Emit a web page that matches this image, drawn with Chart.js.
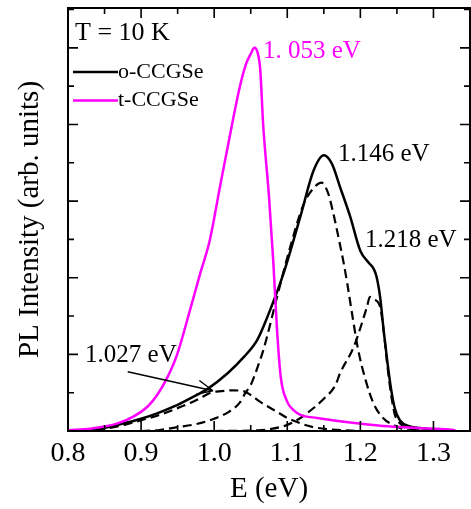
<!DOCTYPE html>
<html>
<head>
<meta charset="utf-8">
<script src="https://cdn.jsdelivr.net/npm/chart.js@4.4.0/dist/chart.umd.min.js"></script>
<style>
  html, body { margin: 0; padding: 0; background: #fff; }
  canvas { display: block; }
</style>
</head>
<body>
<canvas id="plChart" width="471" height="509"></canvas>
<script>
// t-CCGSe spectrum (magenta)
const tEnergy = [0.80, 0.83, 0.868, 0.89, 0.909, 0.922, 0.936, 0.949, 0.967, 0.981, 0.994, 1.008, 1.022, 1.035, 1.044, 1.050, 1.055, 1.059, 1.063, 1.067, 1.075, 1.081, 1.086, 1.091, 1.100, 1.109, 1.118, 1.141, 1.186, 1.231, 1.277, 1.322, 1.330];
const tIntensity = [0.01, 0.03, 0.10, 0.19, 0.32, 0.47, 0.70, 0.99, 1.58, 2.06, 2.49, 3.19, 3.88, 4.49, 4.80, 4.92, 5.00, 4.95, 4.72, 4.00, 3.06, 2.19, 1.32, 0.71, 0.38, 0.27, 0.21, 0.17, 0.11, 0.065, 0.04, 0.02, 0.01];

// o-CCGSe spectrum (black, solid)
const oEnergy = [0.80, 0.831, 0.877, 0.90, 0.922, 0.945, 0.968, 0.991, 1.018, 1.041, 1.059, 1.072, 1.095, 1.118, 1.136, 1.150, 1.161, 1.172, 1.186, 1.200, 1.212, 1.218, 1.222, 1.227, 1.232, 1.237, 1.242, 1.247, 1.254, 1.268, 1.282, 1.300, 1.330];
const oIntensity = [0.0, 0.01, 0.10, 0.16, 0.23, 0.32, 0.43, 0.55, 0.75, 0.97, 1.19, 1.47, 2.06, 2.80, 3.40, 3.60, 3.49, 3.19, 2.80, 2.35, 2.19, 2.12, 2.02, 1.75, 1.30, 0.90, 0.55, 0.30, 0.14, 0.06, 0.04, 0.02, 0.0];

// fitted components (black, dashed)
const peakAEnergy = [0.80, 0.85, 0.877, 0.90, 0.922, 0.945, 0.968, 0.981, 0.995, 1.010, 1.025, 1.040, 1.050, 1.063, 1.086, 1.100, 1.118, 1.136, 1.160, 1.200];
const peakAIntensity = [0.0, 0.03, 0.08, 0.14, 0.20, 0.28, 0.37, 0.43, 0.50, 0.52, 0.53, 0.52, 0.47, 0.38, 0.25, 0.17, 0.10, 0.05, 0.02, 0.0];

const peakBEnergy = [0.90, 0.923, 0.950, 0.975, 1.000, 1.020, 1.035, 1.043, 1.050, 1.060, 1.068, 1.086, 1.104, 1.122, 1.136, 1.147, 1.156, 1.163, 1.170, 1.177, 1.182, 1.190, 1.197, 1.207, 1.218, 1.231, 1.245, 1.260, 1.280];
const peakBIntensity = [0.0, 0.01, 0.05, 0.09, 0.16, 0.25, 0.37, 0.50, 0.60, 0.85, 1.08, 1.75, 2.40, 2.95, 3.17, 3.24, 3.10, 2.84, 2.53, 2.20, 1.93, 1.45, 1.06, 0.67, 0.36, 0.17, 0.08, 0.02, 0.0];

const peakCEnergy = [1.00, 1.06, 1.08, 1.10, 1.118, 1.136, 1.150, 1.166, 1.172, 1.191, 1.209, 1.213, 1.218, 1.227, 1.232, 1.237, 1.242, 1.247, 1.254, 1.270, 1.300];
const peakCIntensity = [0.0, 0.01, 0.03, 0.08, 0.17, 0.30, 0.42, 0.60, 0.75, 1.10, 1.62, 1.75, 1.72, 1.62, 1.30, 0.85, 0.48, 0.22, 0.10, 0.02, 0.0];

const xTicks = [0.8, 0.9, 1.0, 1.1, 1.2, 1.3];
const yTicks = [0, 1, 2, 3, 4, 5];

const MAGENTA = '#ff00ff';
const SERIF = "'Liberation Serif', 'Times New Roman', serif";

function toPoints(xs, ys) {
  return xs.map((v, i) => ({ x: v, y: ys[i] }));
}

const frameTicks = {
  id: 'frameTicks',
  afterDraw(chart) {
    const { ctx, chartArea: a, scales: { x, y } } = chart;
    ctx.save();
    ctx.strokeStyle = '#000';
    ctx.lineWidth = 2;
    ctx.strokeRect(a.left, a.top, a.right - a.left, a.bottom - a.top);

    ctx.lineWidth = 1.6;
    ctx.beginPath();
    xTicks.forEach(v => {
      [v, v + 0.05].forEach((t, k) => {
        if (t > x.max + 1e-9) return;
        const px = x.getPixelForValue(t);
        const len = k === 0 ? 10 : 6;
        ctx.moveTo(px, a.bottom); ctx.lineTo(px, a.bottom - len);
        ctx.moveTo(px, a.top); ctx.lineTo(px, a.top + len);
      });
    });
    yTicks.forEach(v => {
      [v, v + 0.5].forEach((t, k) => {
        if (t > y.max + 1e-9) return;
        const py = y.getPixelForValue(t);
        const len = k === 0 ? 10 : 6;
        ctx.moveTo(a.left, py); ctx.lineTo(a.left + len, py);
        ctx.moveTo(a.right, py); ctx.lineTo(a.right - len, py);
      });
    });
    ctx.stroke();

    // legend
    const legend = [
      { label: 'o-CCGSe', color: '#000', y: a.top + 64 },
      { label: 't-CCGSe', color: MAGENTA, y: a.top + 92.5 }
    ];
    ctx.font = '22px ' + SERIF;
    ctx.textBaseline = 'middle';
    ctx.textAlign = 'left';
    legend.forEach(item => {
      ctx.strokeStyle = item.color;
      ctx.lineWidth = 2.5;
      ctx.beginPath();
      ctx.moveTo(a.left + 5, item.y);
      ctx.lineTo(a.left + 50, item.y);
      ctx.stroke();
      ctx.fillStyle = '#000';
      ctx.fillText(item.label, a.left + 50, item.y);
    });

    // text labels
    const labels = [
      { text: 'T = 10 K', x: 0.8096, y: 5.198, color: '#000', size: 26 },
      { text: '1. 053 eV', x: 1.0668, y: 4.95, color: MAGENTA, size: 25 },
      { text: '1.146 eV', x: 1.1694, y: 3.613, color: '#000', size: 25 },
      { text: '1.218 eV', x: 1.2063, y: 2.491, color: '#000', size: 25 },
      { text: '1.027 eV', x: 0.8233, y: 0.991, color: '#000', size: 25 }
    ];
    labels.forEach(l => {
      ctx.font = l.size + 'px ' + SERIF;
      ctx.fillStyle = l.color;
      ctx.fillText(l.text, x.getPixelForValue(l.x), y.getPixelForValue(l.y));
    });

    // arrow to the 1.027 eV component
    const x0 = x.getPixelForValue(0.8817), y0 = y.getPixelForValue(0.773);
    const x1 = x.getPixelForValue(0.9984), y1 = y.getPixelForValue(0.526);
    const ang = Math.atan2(y1 - y0, x1 - x0);
    ctx.strokeStyle = '#000';
    ctx.lineWidth = 1.4;
    ctx.beginPath();
    ctx.moveTo(x0, y0); ctx.lineTo(x1, y1);
    [0.42, -0.42].forEach(d => {
      ctx.moveTo(x1, y1);
      ctx.lineTo(x1 - 17 * Math.cos(ang + d), y1 - 17 * Math.sin(ang + d));
    });
    ctx.stroke();
    ctx.restore();
  }
};

const solid = (data, color) => ({
  data, borderColor: color, borderWidth: 2.5, pointRadius: 0,
  cubicInterpolationMode: 'monotone', fill: false
});
const dashed = data => ({
  data, borderColor: '#000', borderWidth: 2.2, borderDash: [9, 5], pointRadius: 0,
  cubicInterpolationMode: 'monotone', fill: false
});

new Chart(document.getElementById('plChart'), {
  type: 'line',
  data: {
    datasets: [
      Object.assign(solid(toPoints(tEnergy, tIntensity), MAGENTA), { label: 't-CCGSe' }),
      Object.assign(solid(toPoints(oEnergy, oIntensity), '#000'), { label: 'o-CCGSe' }),
      dashed(toPoints(peakAEnergy, peakAIntensity)),
      dashed(toPoints(peakBEnergy, peakBIntensity)),
      dashed(toPoints(peakCEnergy, peakCIntensity))
    ]
  },
  options: {
    responsive: false,
    animation: false,
    devicePixelRatio: 1,
    layout: { padding: { top: 8, right: 1, left: 0, bottom: 0 } },
    plugins: { legend: { display: false }, tooltip: { enabled: false } },
    scales: {
      x: {
        type: 'linear',
        min: 0.8,
        max: 1.35,
        afterFit: s => { s.height = 78; },
        grid: { display: false, drawTicks: false },
        border: { display: false },
        ticks: {
          stepSize: 0.1,
          includeBounds: false,
          padding: 6,
          color: '#000',
          font: { family: SERIF, size: 28 },
          maxRotation: 0,
          callback: v => v.toFixed(1)
        },
        title: {
          display: true,
          text: 'E (eV)',
          color: '#000',
          font: { family: SERIF, size: 29 },
          padding: { top: 0, bottom: 2 }
        }
      },
      y: {
        min: 0,
        max: 5.52,
        afterFit: s => { s.width = 68; },
        grid: { display: false, drawTicks: false },
        border: { display: false },
        ticks: { display: false },
        title: {
          display: true,
          text: 'PL Intensity (arb. units)',
          color: '#000',
          font: { family: SERIF, size: 29 },
          padding: { top: 12.6, bottom: 0 }
        }
      }
    }
  },
  plugins: [frameTicks]
});
</script>
</body>
</html>
